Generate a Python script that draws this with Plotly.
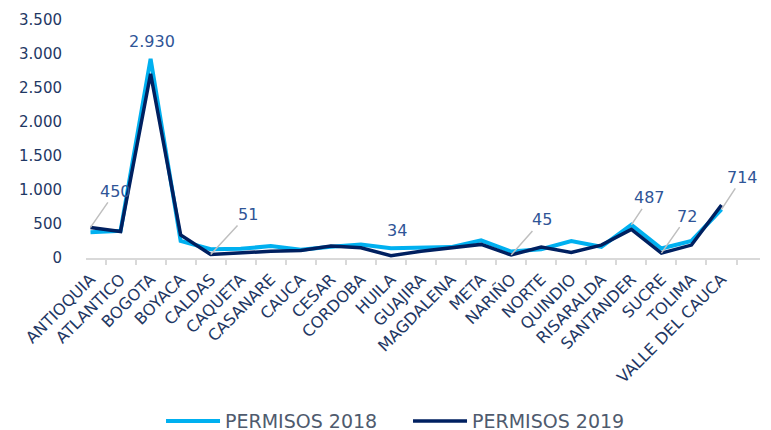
import plotly.graph_objects as go

categories = ["ANTIOQUIA", "ATLANTICO", "BOGOTA", "BOYACA", "CALDAS", "CAQUETA",
              "CASANARE", "CAUCA", "CESAR", "CORDOBA", "HUILA", "GUAJIRA",
              "MAGDALENA", "META", "NARIÑO", "NORTE", "QUINDIO", "RISARALDA",
              "SANTANDER", "SUCRE", "TOLIMA", "VALLE DEL CAUCA"]
permisos_2018 = [380, 400, 2930, 250, 130, 135, 175, 120, 165, 200, 145, 150,
                 160, 260, 95, 130, 250, 165, 487, 140, 250, 714]
permisos_2019 = [450, 390, 2710, 340, 51, 80, 100, 110, 175, 150, 34, 100,
                 155, 200, 45, 160, 80, 190, 420, 72, 190, 780]
y_ticks = [0, 500, 1000, 1500, 2000, 2500, 3000, 3500]

# labelled points: (category, series, x offset px, y offset px, leader line)
labels = [
    ("ANTIOQUIA", "2019", 25, -36, True),
    ("BOGOTA", "2018", 1, -17, False),
    ("CALDAS", "2019", 37, -40, True),
    ("HUILA", "2019", 6, -25, False),
    ("NARIÑO", "2019", 31, -35, True),
    ("SANTANDER", "2018", 18, -27, True),
    ("SUCRE", "2019", 26, -37, True),
    ("VALLE DEL CAUCA", "2018", 21, -32, True),
]

def fmt(v):
    return f"{v:,}".replace(",", ".")

FONT = "DejaVu Sans"

fig = go.Figure()
fig.add_trace(go.Scatter(x=categories, y=permisos_2018, mode="lines",
                         name="PERMISOS 2018",
                         line=dict(color="#00B0F0", width=4)))
fig.add_trace(go.Scatter(x=categories, y=permisos_2019, mode="lines",
                         name="PERMISOS 2019",
                         line=dict(color="#002060", width=3.5)))

series = {"2018": permisos_2018, "2019": permisos_2019}
for cat, s, ax, ay, leader in labels:
    v = series[s][categories.index(cat)]
    if leader:
        fig.add_annotation(x=cat, y=v, text=fmt(v), showarrow=True,
                           arrowhead=0, arrowwidth=1.5, arrowcolor="#BFBFBF",
                           ax=ax, ay=ay,
                           font=dict(family=FONT, size=16, color="#2F5597"))
    else:
        fig.add_annotation(x=cat, y=v, text=fmt(v), showarrow=False,
                           xshift=ax, yshift=-ay,
                           font=dict(family=FONT, size=16, color="#2F5597"))

fig.update_layout(
    width=771, height=430,
    margin=dict(l=78, r=19, t=12, b=180, autoexpand=False),
    paper_bgcolor="white", plot_bgcolor="white",
    separators=",.",
    font=dict(family=FONT, color="#1F3864"),
    showlegend=True,
    legend=dict(orientation="h", x=0.1113, xanchor="left", y=-0.685,
                yanchor="middle", font=dict(size=19, color="#4F5B6E"),
                itemwidth=54, entrywidth=178, tracegroupgap=0),
)
fig.update_xaxes(showline=True, linecolor="#D9D9D9", linewidth=1.5,
                 ticks="outside", tickson="boundaries", ticklen=5,
                 tickcolor="#D9D9D9", tickwidth=1.5, automargin=False,
                 tickangle=-45, showgrid=False, ticklabelstandoff=4,
                 tickfont=dict(size=16, color="#1F3864"))
fig.update_yaxes(range=[0, 3500], tickvals=y_ticks,
                 ticktext=[fmt(v) for v in y_ticks],
                 showgrid=False, zeroline=False, showline=False,
                 ticklabelstandoff=23, automargin=False,
                 tickfont=dict(size=15, color="#1F3864"))

fig.write_html("out.html")
